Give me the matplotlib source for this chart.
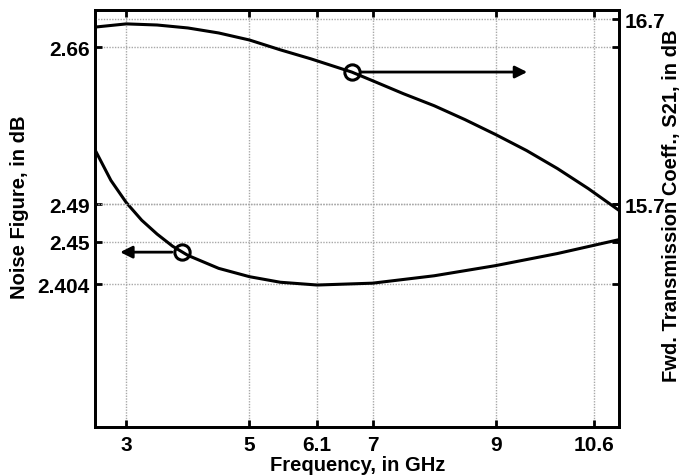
import matplotlib
matplotlib.use("Agg")
import matplotlib.pyplot as plt

# Data
freq_nf = [2.5, 2.75, 3.0, 3.25, 3.5, 3.75, 4.0, 4.5, 5.0, 5.5, 6.1, 7.0, 8.0, 9.0, 10.0, 11.0]
nf_db = [2.548, 2.516, 2.492, 2.473, 2.458, 2.445, 2.435, 2.421, 2.412, 2.406, 2.403,
         2.405, 2.413, 2.424, 2.437, 2.452]

freq_s21 = [2.5, 3.0, 3.5, 4.0, 4.5, 5.0, 5.5, 6.0, 6.66, 7.0, 7.5, 8.0, 8.5, 9.0, 9.5, 10.0, 10.5, 11.0]
s21_db = [16.658, 16.675, 16.669, 16.653, 16.626, 16.588, 16.535, 16.486, 16.415, 16.368,
          16.298, 16.233, 16.158, 16.077, 15.991, 15.894, 15.786, 15.668]

x_ticks = [3, 5, 6.1, 7, 9, 10.6]
x_ticklabels = ["3", "5", "6.1", "7", "9", "10.6"]
nf_ticks = [2.404, 2.45, 2.49, 2.66]
nf_ticklabels = ["2.404", "2.45", "2.49", "2.66"]
s21_ticks = [15.7, 16.7]
s21_ticklabels = ["15.7", "16.7"]

# marker/arrow annotations (frequency, value, arrow end frequency)
nf_marker = (3.9, 2.4385, 2.9)
s21_marker = (6.66, 16.415, 9.51)

plt.rcParams['font.family'] = ['Liberation Sans', 'DejaVu Sans']
plt.rcParams['font.weight'] = 'bold'

fig = plt.figure(figsize=(6.82, 4.77), dpi=100)
ax1 = fig.add_axes([95.5/682, 1 - 427.7/477, (619 - 95.5)/682, (427.7 - 11)/477])
ax2 = ax1.twinx()

lw = 2.2
ax1.plot(freq_nf, nf_db, color='black', lw=lw, zorder=3)
ax2.plot(freq_s21, s21_db, color='black', lw=lw, zorder=3)

ax1.set_xlim(2.5, 11)
ax1.set_ylim(2.25, 2.70)
ax2.set_ylim(14.5, 16.75)

ax1.set_xticks(x_ticks)
ax1.set_xticklabels(x_ticklabels)
ax1.set_yticks(nf_ticks)
ax1.set_yticklabels(nf_ticklabels)
ax2.set_yticks(s21_ticks)
ax2.set_yticklabels(s21_ticklabels)

grid_kw = dict(color='#a8a8a8', linestyle=(0, (1, 1)), linewidth=1.0)
ax1.grid(True, axis='both', **grid_kw)
ax2.grid(True, axis='y', **grid_kw)
ax1.set_axisbelow(True)

for ax in (ax1, ax2):
    for sp in ax.spines.values():
        sp.set_linewidth(2.0)
ax1.tick_params(axis='both', direction='in', length=5, width=2, labelsize=15, pad=4,
                top=True, right=True, labelright=False)
ax1.tick_params(axis='x', pad=6)
ax2.tick_params(axis='y', direction='in', length=5, width=2, labelsize=15, pad=4)
for lab in ax1.get_xticklabels() + ax1.get_yticklabels() + ax2.get_yticklabels():
    lab.set_fontweight('bold')

ax1.set_xlabel("Frequency, in GHz", fontsize=14.5, fontweight='bold', va='center')
ax1.xaxis.set_label_coords(0.5, (427.7 - 466) / (427.7 - 11))
ax1.set_ylabel("Noise Figure, in dB", fontsize=14.5, fontweight='bold', va='center')
ax1.yaxis.set_label_coords((20 - 95.5) / (619 - 95.5), (427.7 - 207) / (427.7 - 11))
ax2.set_ylabel("Fwd. Transmission Coeff., S21, in dB", fontsize=14.5, fontweight='bold',
               va='center', rotation=90)
ax2.yaxis.set_label_coords((671 - 95.5) / (619 - 95.5), (427.7 - 206) / (427.7 - 11))

# markers and arrows
ax1.plot([nf_marker[0]], [nf_marker[1]], marker='o', ms=11, mfc='none', mec='black', mew=2.2, zorder=4)
ax1.annotate("", xy=(nf_marker[2], nf_marker[1]), xytext=(nf_marker[0], nf_marker[1]),
             arrowprops=dict(arrowstyle='-|>', color='black', lw=2, mutation_scale=18,
                             shrinkA=7, shrinkB=0))
ax2.plot([s21_marker[0]], [s21_marker[1]], marker='o', ms=11, mfc='none', mec='black', mew=2.2, zorder=4)
ax2.annotate("", xy=(s21_marker[2], s21_marker[1]), xytext=(s21_marker[0], s21_marker[1]),
             arrowprops=dict(arrowstyle='-|>', color='black', lw=2, mutation_scale=18,
                             shrinkA=7, shrinkB=0))

fig.savefig("out.png", dpi=100)
